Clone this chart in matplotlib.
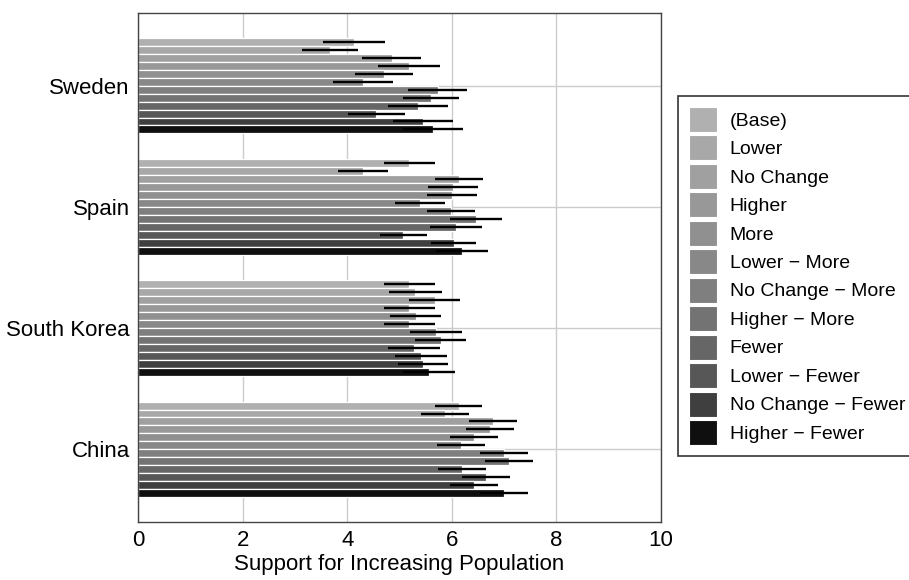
import matplotlib
matplotlib.use("Agg")
import matplotlib.pyplot as plt
from matplotlib.patches import Patch
import numpy as np

plt.rcParams['font.family'] = ['Liberation Sans', 'DejaVu Sans']

countries = ["Sweden", "Spain", "South Korea", "China"]
conditions = ["(Base)", "Lower", "No Change", "Higher", "More",
              "Lower \u2212 More", "No Change \u2212 More", "Higher \u2212 More",
              "Fewer", "Lower \u2212 Fewer", "No Change \u2212 Fewer", "Higher \u2212 Fewer"]

sweden_mean = [4.13, 3.67, 4.85, 5.18, 4.70, 4.30, 5.73, 5.60, 5.35, 4.56, 5.45, 5.64]
spain_mean = [5.19, 4.30, 6.14, 6.02, 6.00, 5.39, 5.98, 6.46, 6.08, 5.07, 6.04, 6.20]
korea_mean = [5.19, 5.30, 5.67, 5.19, 5.31, 5.19, 5.70, 5.79, 5.28, 5.41, 5.45, 5.57]
china_mean = [6.13, 5.87, 6.78, 6.73, 6.43, 6.17, 7.00, 7.10, 6.20, 6.65, 6.43, 7.00]

sweden_ci = [0.59, 0.54, 0.57, 0.59, 0.55, 0.57, 0.56, 0.53, 0.57, 0.55, 0.57, 0.57]
spain_ci = [0.49, 0.48, 0.46, 0.48, 0.48, 0.48, 0.46, 0.50, 0.49, 0.45, 0.43, 0.50]
korea_ci = [0.49, 0.51, 0.49, 0.49, 0.49, 0.49, 0.49, 0.49, 0.50, 0.49, 0.48, 0.50]
china_ci = [0.45, 0.45, 0.46, 0.45, 0.46, 0.46, 0.46, 0.46, 0.46, 0.46, 0.46, 0.46]

means = [sweden_mean, spain_mean, korea_mean, china_mean]
cis = [sweden_ci, spain_ci, korea_ci, china_ci]

greys = ['#b0b0b0', '#a8a8a8', '#a0a0a0', '#989898', '#909090', '#888888',
         '#7f7f7f', '#737373', '#666666', '#575757', '#3f3f3f', '#0f0f0f']

fig = plt.figure(figsize=(9.09, 5.80), dpi=100)
ax = fig.add_axes([138 / 909, 1 - 522 / 580, (661 - 138) / 909, (522 - 13) / 580])

n_cond = len(conditions)
bar_h = 0.0656
centers = np.arange(len(countries))[::-1].astype(float)

for c, (m, e) in enumerate(zip(means, cis)):
    ys = centers[c] + (n_cond / 2 - 0.5 - np.arange(n_cond)) * bar_h
    ax.barh(ys, m, height=bar_h, color=greys, edgecolor='white',
            linewidth=0.9, zorder=2)
    ax.errorbar(m, ys, xerr=e, fmt='none', ecolor='black',
                elinewidth=1.7, capsize=0, zorder=3)

ax.set_xlim(0, 10)
ax.set_ylim(-0.6, 3.6)
ax.set_xticks([0, 2, 4, 6, 8, 10])
ax.set_yticks(centers)
ax.set_yticklabels(countries)
ax.tick_params(axis='both', length=0, labelsize=16, pad=6)
ax.set_xlabel("Support for Increasing Population", fontsize=16, labelpad=2)
ax.grid(True, color='#cccccc', linewidth=1.0, zorder=0)
ax.set_axisbelow(True)
for s in ax.spines.values():
    s.set_color('#444444')
    s.set_linewidth(1.0)

handles = [Patch(facecolor=g, edgecolor='white', linewidth=0.8) for g in greys]
leg = fig.legend(handles, conditions, loc='upper left',
                 bbox_to_anchor=(678 / 909, 1 - 96 / 580),
                 fontsize=14, frameon=True, fancybox=False,
                 handlelength=1.45, handleheight=1.6, handletextpad=0.65,
                 labelspacing=0.18, borderpad=0.55, borderaxespad=0)
leg.get_frame().set_edgecolor('black')
leg.get_frame().set_linewidth(1.2)

fig.savefig("out.png", dpi=100, facecolor='white')
